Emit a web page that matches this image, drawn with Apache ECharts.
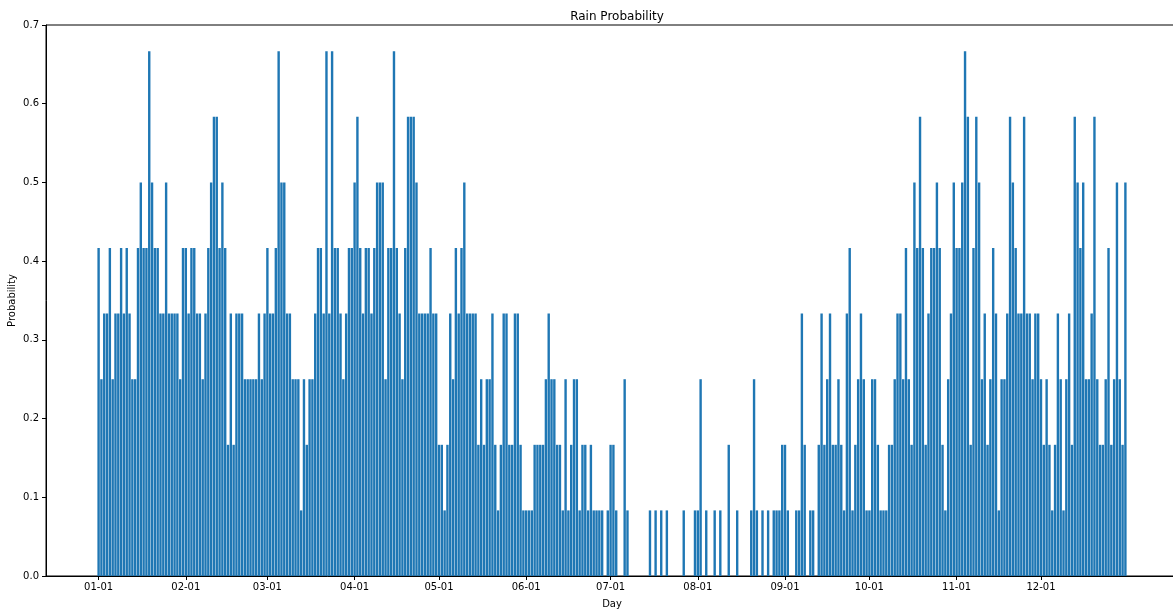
<!DOCTYPE html>
<html>
<head>
<meta charset="utf-8">
<title>Rain Probability</title>
<script src="https://cdn.jsdelivr.net/npm/echarts@6/dist/echarts.min.js"></script>
<style>
  html, body { margin: 0; padding: 0; background: #fff; }
  #chart { width: 1173px; height: 610px; }
</style>
</head>
<body>
<div id="chart"></div>
<script>
// daily rain counts, in twelfths (rainy years out of 12)
const jan = [5, 3, 4, 4, 5, 3, 4, 4, 5, 4, 5, 4, 3, 3, 5, 6, 5, 5, 8, 6, 5, 5, 4, 4, 6, 4, 4, 4, 4, 3, 5];
const feb = [5, 4, 5, 5, 4, 4, 3, 4, 5, 6, 7, 7, 5, 6, 5, 2, 4, 2, 4, 4, 4, 3, 3, 3, 3, 3, 4, 3, 4];
const mar = [5, 4, 4, 5, 8, 6, 6, 4, 4, 3, 3, 3, 1, 3, 2, 3, 3, 4, 5, 5, 4, 8, 4, 8, 5, 5, 4, 3, 4, 5, 5];
const apr = [6, 7, 5, 4, 5, 5, 4, 5, 6, 6, 6, 3, 5, 5, 8, 5, 4, 3, 5, 7, 7, 7, 6, 4, 4, 4, 4, 5, 4, 4];
const may = [2, 2, 1, 2, 4, 3, 5, 4, 5, 6, 4, 4, 4, 4, 2, 3, 2, 3, 3, 4, 2, 1, 2, 4, 4, 2, 2, 4, 4, 2, 1];
const jun = [1, 1, 1, 2, 2, 2, 2, 3, 4, 3, 3, 2, 2, 1, 3, 1, 2, 3, 3, 1, 2, 2, 1, 2, 1, 1, 1, 1, 0, 1];
const jul = [2, 2, 1, 0, 0, 3, 1, 0, 0, 0, 0, 0, 0, 0, 1, 0, 1, 0, 1, 0, 1, 0, 0, 0, 0, 0, 1, 0, 0, 0, 1];
const aug = [1, 3, 0, 1, 0, 0, 1, 0, 1, 0, 0, 2, 0, 0, 1, 0, 0, 0, 0, 1, 3, 1, 0, 1, 0, 1, 0, 1, 1, 1, 2];
const sep = [2, 1, 0, 0, 1, 1, 4, 2, 0, 1, 1, 0, 2, 4, 2, 3, 4, 2, 2, 3, 2, 1, 4, 5, 1, 2, 3, 4, 3, 1];
const oct = [1, 3, 3, 2, 1, 1, 1, 2, 2, 3, 4, 4, 3, 5, 3, 2, 6, 5, 7, 5, 2, 4, 5, 5, 6, 5, 2, 1, 3, 4, 6];
const nov = [5, 5, 6, 8, 7, 2, 5, 7, 6, 3, 4, 2, 3, 5, 4, 1, 3, 3, 4, 7, 6, 5, 4, 4, 7, 4, 4, 3, 4, 4];
const dec = [3, 2, 3, 2, 1, 2, 4, 3, 1, 3, 4, 2, 7, 6, 5, 6, 3, 3, 4, 7, 3, 2, 2, 3, 5, 2, 3, 6, 3, 2, 6];

const tickDays = [0, 31, 60, 91, 121, 152, 182, 213, 244, 274, 305, 335];
const tickLabels = ['01-01', '02-01', '03-01', '04-01', '05-01', '06-01',
                    '07-01', '08-01', '09-01', '10-01', '11-01', '12-01'];

const months = [jan, feb, mar, apr, may, jun, jul, aug, sep, oct, nov, dec];
const probs = [].concat(...months).map((k, i) => [i, k / 12]);

const chart = echarts.init(document.getElementById('chart'));

const option = {
    animation: false,
    backgroundColor: '#fff',
    textStyle: { fontFamily: 'DejaVu Sans' },
    title: {
        text: 'Rain Probability',
        left: 612,
        textAlign: 'center',
        top: 6,
        textStyle: { fontSize: 12, fontWeight: 'normal', color: '#000', fontFamily: 'DejaVu Sans' }
    },
    grid: {
        left: 46, right: -5, top: 25, bottom: 34,
        containLabel: false,
        outerBoundsMode: 'none',
        show: true, borderColor: '#000', borderWidth: 1
    },
    xAxis: {
        type: 'value',
        min: -18.7,
        max: 383.7,
        name: 'Day',
        nameLocation: 'middle',
        nameGap: 23,
        nameMoveOverlap: false,
        nameTextStyle: { fontSize: 10, color: '#000' },
        axisLine: { onZero: false, lineStyle: { color: '#000', width: 1 } },
        axisTick: { customValues: tickDays, length: 4, lineStyle: { color: '#000' } },
        axisLabel: {
            customValues: tickDays,
            formatter: v => tickLabels[tickDays.indexOf(v)],
            margin: 6, fontSize: 10, color: '#000'
        },
        splitLine: { show: false }
    },
    yAxis: {
        type: 'value',
        min: 0,
        max: 0.7,
        interval: 0.1,
        name: 'Probability',
        nameLocation: 'middle',
        nameRotate: 90,
        nameGap: 29,
        nameMoveOverlap: false,
        nameTextStyle: { fontSize: 10, color: '#000' },
        axisLine: { show: true, onZero: false, lineStyle: { color: '#000', width: 1 } },
        axisTick: { show: true, length: 4, lineStyle: { color: '#000' } },
        axisLabel: { formatter: v => v.toFixed(1), margin: 7, fontSize: 10, color: '#000' },
        splitLine: { show: false }
    },
    series: [
        {
            type: 'bar',
            data: probs,
            barWidth: 2.4,
            itemStyle: { color: '#1f77b4' }
        }
    ]
};

chart.setOption(option);
</script>
</body>
</html>
